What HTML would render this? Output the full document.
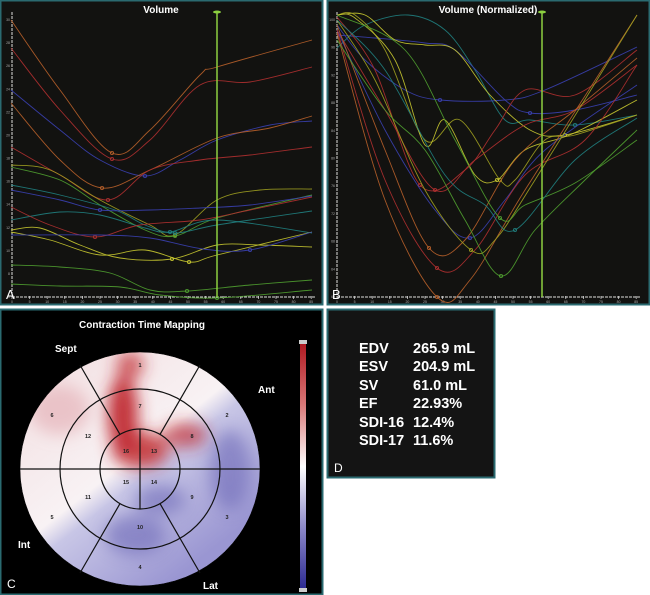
<!DOCTYPE html>
<html><head><meta charset="utf-8"><style>
body{margin:0;background:#fff;width:650px;height:595px;overflow:hidden;font-family:"Liberation Sans",sans-serif}
svg{position:absolute;left:0;top:0}
</style></head><body>
<svg id="s" width="650" height="595" viewBox="0 0 650 595" xmlns="http://www.w3.org/2000/svg">
<defs>
<linearGradient id="bar" x1="0" y1="0" x2="0" y2="1">
<stop offset="0" stop-color="#b01820"/><stop offset="0.25" stop-color="#d87878"/><stop offset="0.5" stop-color="#ffffff"/><stop offset="0.75" stop-color="#8c88c8"/><stop offset="1" stop-color="#2a2890"/></linearGradient>
<linearGradient id="bg" x1="0.2" y1="0.15" x2="0.75" y2="0.85">
<stop offset="0" stop-color="#f4e4e6"/><stop offset="0.45" stop-color="#f8f2f4"/><stop offset="0.55" stop-color="#c8c6e6"/><stop offset="1" stop-color="#9a96d2"/></linearGradient>
<clipPath id="cc"><ellipse cx="140" cy="469" rx="120" ry="117"/></clipPath>
<filter id="bl" x="-50%" y="-50%" width="200%" height="200%"><feGaussianBlur stdDeviation="8"/></filter>
</defs>
<rect x="0.5" y="0.5" width="322" height="304" fill="#121210" stroke="#2a6a70" stroke-width="2"/>
<rect x="327.5" y="0.5" width="322" height="304" fill="#121210" stroke="#2a6a70" stroke-width="2"/>
<rect x="0.5" y="309.5" width="322" height="285" fill="#000" stroke="#2a6a70" stroke-width="2"/>
<rect x="327.5" y="309.5" width="167" height="168" fill="#141414" stroke="#2a6a70" stroke-width="2"/>
<g id="ga"></g><g id="gb"></g>
<text x="161" y="13" fill="#fff" font-size="10" font-weight="bold" text-anchor="middle">Volume</text>
<text x="488" y="13" fill="#fff" font-size="10" font-weight="bold" text-anchor="middle">Volume (Normalized)</text>
<text x="6" y="299" fill="#fff" font-size="13">A</text>
<text x="332" y="299" fill="#fff" font-size="13">B</text>
<text x="142" y="328" fill="#fff" font-size="10" font-weight="bold" text-anchor="middle">Contraction Time Mapping</text>
<g clip-path="url(#cc)">
<rect x="15" y="345" width="250" height="250" fill="url(#bg)"/>
<g filter="url(#bl)" fill="#c02830">
<ellipse cx="123" cy="415" rx="15" ry="40" opacity="0.95"/>
<ellipse cx="130" cy="365" rx="14" ry="14" opacity="0.7"/>
<ellipse cx="140" cy="450" rx="28" ry="18" opacity="0.85"/>
<ellipse cx="185" cy="435" rx="22" ry="12" opacity="0.7"/>
<ellipse cx="60" cy="410" rx="30" ry="25" fill="#e0a0a8" opacity="0.5"/>
</g>
<g filter="url(#bl)" fill="#6e6ab8" opacity="0.6">
<ellipse cx="160" cy="500" rx="25" ry="15"/>
<ellipse cx="230" cy="470" rx="20" ry="40"/>
<ellipse cx="135" cy="535" rx="30" ry="20"/>
</g>
</g>
<g stroke="#111" stroke-width="1.2" fill="none">
<ellipse cx="140" cy="469" rx="120" ry="117" stroke="#000" stroke-width="0.5"/>
<circle cx="140" cy="469" r="80"/>
<circle cx="140" cy="469" r="40"/>
<line x1="20" y1="469" x2="260" y2="469"/>
<line x1="140" y1="429" x2="140" y2="509"/>
<line x1="120" y1="434.4" x2="80" y2="365"/>
<line x1="160" y1="434.4" x2="200" y2="365"/>
<line x1="120" y1="503.6" x2="80" y2="573"/>
<line x1="160" y1="503.6" x2="200" y2="573"/>
</g>
<g font-size="5.5" fill="#222" text-anchor="middle" font-weight="bold">
<text x="140" y="367">1</text><text x="227" y="417">2</text><text x="227" y="519">3</text><text x="140" y="569">4</text>
<text x="52" y="519">5</text><text x="52" y="417">6</text><text x="140" y="408">7</text><text x="192" y="438">8</text>
<text x="192" y="499">9</text><text x="140" y="529">10</text><text x="88" y="499">11</text><text x="88" y="438">12</text>
<text x="154" y="453">13</text><text x="154" y="484">14</text><text x="126" y="484">15</text><text x="126" y="453">16</text>
</g>
<g fill="#fff" font-size="10" font-weight="bold">
<text x="55" y="352">Sept</text><text x="258" y="393">Ant</text><text x="18" y="548">Int</text><text x="203" y="589">Lat</text>
</g>
<text x="7" y="588" fill="#fff" font-size="12">C</text>
<rect x="300" y="343" width="6" height="247" fill="url(#bar)"/>
<rect x="299" y="340" width="8" height="4" fill="#ccc"/><rect x="299" y="588" width="8" height="4" fill="#ccc"/>
<g fill="#fff" font-size="14.5" font-weight="bold">
<text x="359" y="353">EDV</text><text x="413" y="353">265.9 mL</text>
<text x="359" y="371">ESV</text><text x="413" y="371">204.9 mL</text>
<text x="359" y="390">SV</text><text x="413" y="390">61.0 mL</text>
<text x="359" y="408">EF</text><text x="413" y="408">22.93%</text>
<text x="359" y="427">SDI-16</text><text x="413" y="427">12.4%</text>
<text x="359" y="445">SDI-17</text><text x="413" y="445">11.6%</text>
</g>
<text x="334" y="472" fill="#fff" font-size="12">D</text>
</svg>
<script>
var NS="http://www.w3.org/2000/svg";
function cr(p){var d="M"+p[0][0]+","+p[0][1];for(var i=0;i<p.length-1;i++){var a=p[i-1]||p[i],b=p[i],c=p[i+1],e=p[i+2]||c;
d+=" C"+(b[0]+(c[0]-a[0])/6).toFixed(1)+","+(b[1]+(c[1]-a[1])/6).toFixed(1)+" "+(c[0]-(e[0]-b[0])/6).toFixed(1)+","+(c[1]-(e[1]-b[1])/6).toFixed(1)+" "+c[0]+","+c[1];}return d;}
function el(g,t,a){var e=document.createElementNS(NS,t);for(var k in a)e.setAttribute(k,a[k]);g.appendChild(e);return e;}
var O="#b8602a",R="#b03030",B="#3a40b0",OL="#a0a020",G="#50a030",T="#208080",Y="#c8c830";
var A=[[O,[[11,20],[60,90],[112,153],[150,130],[200,75],[217,67],[312,40]]],
[R,[[11,48],[60,110],[112,159],[150,140],[200,85],[250,82],[312,67]]],
[B,[[11,90],[60,130],[100,160],[145,176],[180,160],[217,140],[270,125],[312,121]]],
[O,[[11,103],[60,160],[102,188],[150,170],[217,138],[270,128],[312,116]]],
[R,[[11,147],[60,175],[108,200],[150,170],[200,160],[250,155],[312,147]]],
[OL,[[11,165],[50,170],[100,200],[150,225],[175,235],[217,200],[260,190],[312,189]]],
[G,[[11,167],[60,180],[100,205],[145,230],[175,236],[217,218],[312,195]]],
[T,[[11,185],[60,195],[115,210],[145,225],[175,233],[217,225],[312,211]]],
[B,[[11,190],[60,200],[100,210],[150,210],[200,208],[250,205],[312,196]]],
[T,[[11,220],[60,212],[100,215],[145,228],[170,232],[217,220],[312,233]]],
[R,[[11,207],[50,225],[95,237],[140,225],[200,220],[250,210],[312,197]]],
[Y,[[11,230],[40,228],[80,245],[120,258],[172,259],[217,245],[260,245],[312,247]]],
[Y,[[11,232],[50,240],[100,255],[145,250],[189,262],[217,255],[312,232]]],
[B,[[11,235],[100,235],[150,238],[203,249],[250,250],[312,232]]],
[G,[[11,265],[60,267],[110,273],[150,290],[187,291],[250,285],[312,280]]],
[G,[[11,284],[60,286],[120,287],[160,295],[217,298],[312,290]]]];
var Bc=[[T,[[12,48],[40,25],[83,15],[120,30],[150,70],[180,120],[205,120],[250,125],[312,115]]],
[B,[[12,35],[50,38],[100,43],[130,50],[180,100],[205,113],[250,110],[312,95]]],
[B,[[12,25],[40,60],[80,90],[115,100],[180,100],[220,90],[312,47]]],
[Y,[[12,15],[40,15],[70,40],[100,45],[130,50],[165,95],[205,130],[240,135],[312,115]]],
[OL,[[12,15],[30,15],[60,50],[100,140],[135,120],[175,180],[190,180],[220,140],[250,135],[312,115]]],
[Y,[[12,15],[30,18],[70,60],[100,145],[120,120],[150,175],[172,180],[200,150],[247,134],[312,100]]],
[R,[[12,17],[50,70],[95,185],[140,170],[170,130],[200,90],[250,95],[312,50]]],
[R,[[12,30],[60,110],[110,190],[150,160],[200,125],[250,110],[312,65]]],
[B,[[12,30],[60,130],[110,210],[145,238],[180,200],[220,150],[312,85]]],
[O,[[12,25],[60,150],[104,248],[140,240],[190,160],[250,110],[312,58]]],
[R,[[12,30],[60,180],[112,268],[150,250],[200,175],[260,140],[312,65]]],
[O,[[12,33],[60,200],[112,297],[145,280],[200,190],[312,15]]],
[OL,[[12,20],[50,80],[100,190],[146,250],[170,240],[210,180],[312,15]]],
[G,[[12,40],[60,110],[100,150],[140,220],[176,276],[210,230],[260,180],[312,130]]],
[G,[[12,15],[80,50],[130,140],[175,218],[200,205],[250,183],[312,140]]],
[T,[[12,20],[60,70],[120,175],[160,205],[190,230],[250,160],[312,118]]]];
function panel(g,curves,ox,lx){g=document.getElementById(g);
el(g,"line",{x1:ox+12,y1:12,x2:ox+12,y2:297,stroke:"#ddd","stroke-width":1,"stroke-dasharray":"3,1"});
el(g,"line",{x1:ox+12,y1:297,x2:ox+316,y2:297,stroke:"#ddd","stroke-width":1,"stroke-dasharray":"3,1"});
for(var i=0;i<=17;i++){var x=ox+12+i*17.6;el(g,"line",{x1:x,y1:296,x2:x,y2:299,stroke:"#ddd","stroke-width":0.7});
var t=el(g,"text",{x:x,y:303,fill:"#aaa","font-size":3.5,"text-anchor":"middle"});t.textContent=i*5;}
for(var j=0;j<lx.length;j++){var y=20+j*(277/(lx.length-1));var t=el(g,"text",{x:ox+10,y:y+1,fill:"#aaa","font-size":3.5,"text-anchor":"end"});t.textContent=lx[j];}
curves.forEach(function(c){var p=c[1].map(function(q){return[q[0]+ox,q[1]];});
el(g,"path",{d:cr(p),fill:"none",stroke:c[0],"stroke-width":0.9,opacity:0.9});
var m=p.reduce(function(a,b){return b[1]>a[1]&&b[0]<ox+260?b:a;},p[0]);
if(m[0]>ox+40)el(g,"circle",{cx:m[0],cy:m[1],r:1.6,fill:"none",stroke:c[0],"stroke-width":0.8});});
el(g,"line",{x1:ox+217,y1:12,x2:ox+217,y2:297,stroke:"#8cd040","stroke-width":1.5});
el(g,"ellipse",{cx:ox+217,cy:12,rx:4,ry:1.5,fill:"#8cd040"});}
panel("ga",A,0,[30,28,26,24,22,20,18,16,14,12,10,8,6]);
panel("gb",Bc,325,[100,96,92,88,84,80,76,72,68,64,60]);
</script>
</body></html>
